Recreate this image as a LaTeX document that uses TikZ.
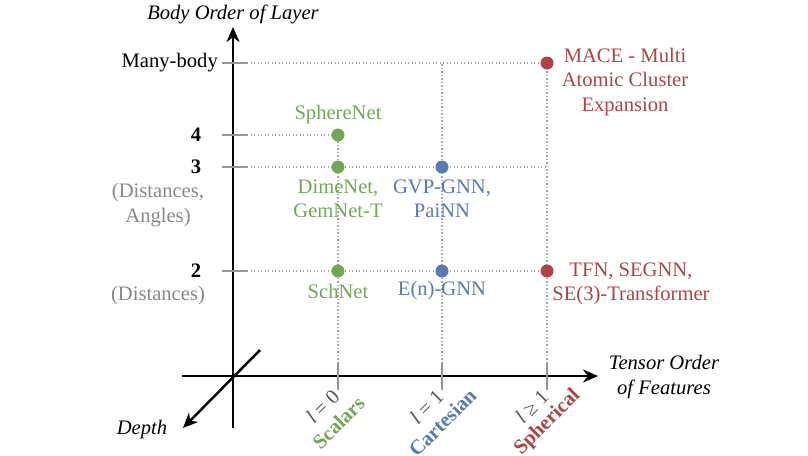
\documentclass[tikz,border=0pt]{standalone}
\usepackage{fontspec}
\setmainfont{Liberation Serif}
\usetikzlibrary{arrows.meta,calc}
\definecolor{cgreen}{RGB}{112,168,84}
\definecolor{cblue}{RGB}{86,122,184}
\definecolor{cred}{RGB}{178,66,66}
\definecolor{cgray}{RGB}{135,135,135}
\definecolor{ctick}{RGB}{150,150,150}
\definecolor{cgrid}{RGB}{165,165,165}
\definecolor{cldark}{RGB}{85,85,85}
\newcommand\fsz{\fontsize{20.6}{24.5}\selectfont}
\begin{document}
\begin{tikzpicture}[x=1pt,y=-1pt,
  font=\fsz,
  axisline/.style={line width=2.5pt,black},
  axarrow/.style={axisline,-{Stealth[length=15pt,width=13pt]}},
  tickmark/.style={line width=1.8pt,ctick},
  gridline/.style={cgrid,line width=1.1pt,dash pattern=on 1.1pt off 2.4pt},
  dot/.style={circle,inner sep=0pt,minimum size=13pt},
  lbl/.style={inner sep=0pt,align=center},
  rlbl/.style={inner sep=0pt,rotate=45}]
\useasboundingbox (0,0) rectangle (808,455);

% coordinates of ticks and grid points
\coordinate (y5a) at (222,63);  \coordinate (y5) at (247,63);
\coordinate (y4a) at (222,135); \coordinate (y4) at (247,135);
\coordinate (y3a) at (222,167); \coordinate (y3) at (247,167);
\coordinate (y2a) at (222,271); \coordinate (y2) at (247,271);
\coordinate (x0) at (338,363); \coordinate (x0b) at (338,390);
\coordinate (x1) at (442,363); \coordinate (x1b) at (442,390);
\coordinate (x2) at (547,363); \coordinate (x2b) at (547,390);
\coordinate (g3) at (547,167);
\coordinate (g1top) at (442,63);

% axes
\coordinate (vbot) at (233,428); \coordinate (vtop) at (233,27);
\coordinate (hleft) at (182,376); \coordinate (hright) at (598,376);
\coordinate (dstart) at (260,350); \coordinate (dend) at (183,428);
\draw[axarrow] (vbot) -- (vtop);
\draw[axarrow] (hleft) -- (hright);
\draw[axarrow] (dstart) -- (dend);

% ticks
\foreach \t in {5,4,3,2} \draw[tickmark] (y\t a) -- (y\t);
\foreach \t in {0,1,2} \draw[tickmark] (x\t) -- (x\t b);

% grid lines
\draw[gridline] (y5) -- (547,63);
\draw[gridline] (y4) -- (338,135);
\draw[gridline] (y3) -- (g3);
\draw[gridline] (y2) -- (547,271);
\draw[gridline] (x0) -- (338,135);
\draw[gridline] (x1) -- (g1top);
\draw[gridline] (x2) -- (547,63);

% dots
\node[dot,fill=cgreen] (sphere) at (338,135) {};
\node[dot,fill=cgreen] (dime) at (338,167) {};
\node[dot,fill=cgreen] (sch) at (338,271) {};
\node[dot,fill=cblue] (gvp) at (442,167) {};
\node[dot,fill=cblue] (egnn) at (442,271) {};
\node[dot,fill=cred] (tfn) at (547,271) {};
\node[dot,fill=cred] (mace) at (547,63) {};

% axis titles
\node[lbl,font=\fsz\itshape] (ytitle) at (233,14) {Body Order of Layer};
\node[lbl,font=\fsz\itshape] (xtitle) at (664,377) {Tensor Order\\of Features};
\node[lbl,font=\fsz\itshape] (ztitle) at (142,430) {Depth};

% y labels
\node[lbl,anchor=east] (many) at (218,63) {Many-body};
\node[lbl,font=\fsz\bfseries] (four) at (196,135) {4};
\node[lbl,font=\fsz\bfseries] (three) at (196,167) {3};
\node[lbl,text=cgray] (da) at (158,205) {(Distances,\\Angles)};
\node[lbl,font=\fsz\bfseries] (two) at (196,271) {2};
\node[lbl,text=cgray] (d) at (158,296) {(Distances)};

% model labels
\node[lbl,text=cgreen] (lsphere) at (338,115) {SphereNet};
\node[lbl,text=cgreen] (ldime) at (338,199) {DimeNet,\\GemNet-T};
\node[lbl,text=cgreen] (lsch) at (338,291) {SchNet};
\node[lbl,text=cblue] (lgvp) at (442,199) {GVP-GNN,\\PaiNN};
\node[lbl,text=cblue] (legnn) at (442,291) {E(n)-GNN};
\node[lbl,text=cred] (ltfn) at (631,284) {TFN, SEGNN,\\SE(3)-Transformer};
\node[lbl,text=cred] (lmace) at (625,82) {MACE - Multi\\Atomic Cluster\\Expansion};

% x labels (rotated)
\node[rlbl,anchor=east,text=cldark] (l0) at ($(x0b)+(-2,3)$) {\textit{l} = 0};
\node[rlbl,text=cgreen,font=\fsz\bfseries] (c0) at ($(l0.center)+(16,16)$) {Scalars};
\node[rlbl,anchor=east,text=cldark] (l1) at ($(x1b)+(-2,3)$) {\textit{l} = 1};
\node[rlbl,text=cblue,font=\fsz\bfseries] (c1) at ($(l1.center)+(16,16)$) {Cartesian};
\node[rlbl,anchor=east,text=cldark] (l2) at ($(x2b)+(-2,3)$) {\textit{l} ≥ 1};
\node[rlbl,text=cred,font=\fsz\bfseries] (c2) at ($(l2.center)+(16,16)$) {Spherical};
\end{tikzpicture}
\end{document}
